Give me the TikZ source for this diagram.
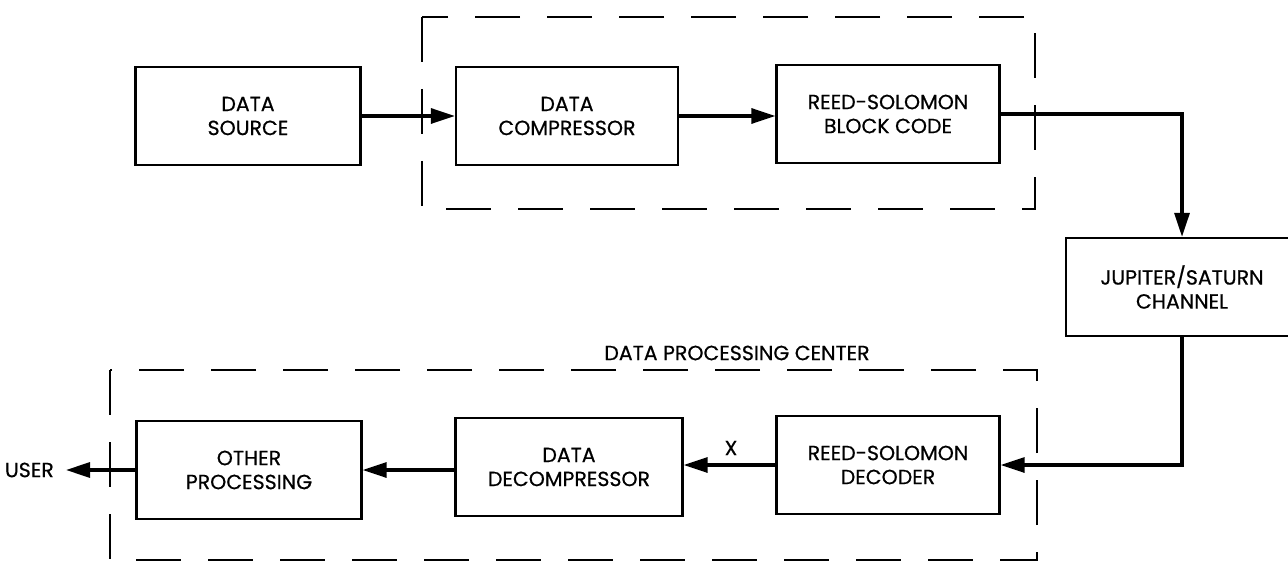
\documentclass[tikz,border=0pt]{standalone}
\usepackage{fontspec}
\setmainfont{Poppins}
\usetikzlibrary{arrows.meta,positioning}
\begin{document}
\begin{tikzpicture}[x=1pt,y=-1pt,
  blk/.style={draw,line width=2.3pt,minimum width=223pt,minimum height=98pt,align=center,inner sep=0pt,
    font=\fontsize{20.5}{24}\selectfont\addfontfeature{FakeBold=0.6}},
  flow/.style={line width=3.2pt,-{Triangle[length=24pt,width=15pt]}},
  grp/.style={line width=1.9pt,dash pattern=on 45pt off 27pt},
  lbl/.style={font=\fontsize{20.5}{24}\selectfont\addfontfeature{FakeBold=0.6},inner sep=0pt}]
\useasboundingbox (0,0) rectangle (1288,564);
\clip (0,0) rectangle (1288,564);
\node[blk,minimum width=225pt] (src) at (248,116) {DATA\\SOURCE};
\node[blk,minimum width=222pt] (cmp) at (567,116) {DATA\\COMPRESSOR};
\node[blk] (rsc) at (888,114) {REED-SOLOMON\\BLOCK CODE};
\node[blk,minimum width=232pt] (chn) at (1182,287) {JUPITER/SATURN\\CHANNEL};
\node[blk] (dec) at (888,465) {REED-SOLOMON\\DECODER};
\node[blk,minimum width=227pt] (dcm) at (569,467) {DATA\\DECOMPRESSOR};
\node[blk,minimum width=225pt] (oth) at (249,470) {OTHER\\PROCESSING};
\node[lbl,anchor=east] (usr) at (54,470) {USER};
\node[lbl] (dpc) at (737,353) {DATA PROCESSING CENTER};
\node[lbl] (xl) at (731,448) {X};
\coordinate (c1) at (1182,114);
\coordinate (c2) at (1182,465);
\draw[grp] (422,17) rectangle (1035,209);
\draw[grp] (110,370) rectangle (1037,560);
\draw[flow] (src.east) -- (cmp.west);
\draw[flow] (cmp.east) -- (rsc.west |- cmp.east);
\draw[flow] (rsc.east) -- (c1) -- (chn.north);
\draw[flow] (chn.south) -- (c2) -- (dec.east);
\draw[flow] (dec.west) -- (dcm.east |- dec.west);
\draw[flow] (dcm.west |- oth.east) -- (oth.east);
\draw[flow] (oth.west) -- ([xshift=12pt]usr.east);
\end{tikzpicture}
\end{document}
